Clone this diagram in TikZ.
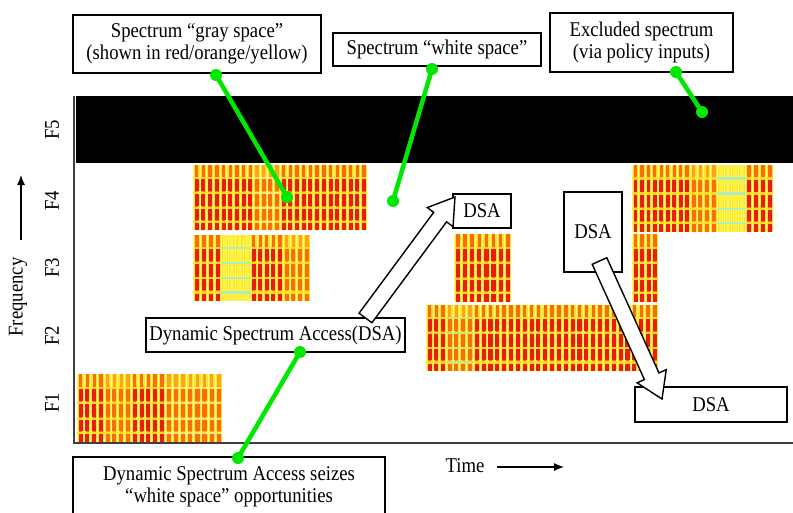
\documentclass[tikz,border=0pt]{standalone}
\usepackage{fontspec}
\setmainfont{Liberation Serif}[FakeStretch=0.89]
\usetikzlibrary{calc,arrows.meta}
\definecolor{hyel}{RGB}{255,228,45}
\definecolor{hred}{RGB}{236,28,10}
\definecolor{horg}{RGB}{250,110,10}
\definecolor{hlor}{RGB}{252,165,25}
\definecolor{hcy}{RGB}{165,238,200}
\definecolor{hcore}{RGB}{255,242,60}
\definecolor{gline}{RGB}{0,232,0}
\newcommand\heat[8]{%
  \pgfmathsetmacro\hh{#4-#3}%
  \pgfmathsetmacro\pp{(#2-#1)/#5}%
  \fill[hyel] (#1,#3) rectangle (#2,#4);
  \foreach \i in {1,...,#5}{%
    \pgfmathsetmacro\xa{#1+(\i-1)*\pp}%
    \fill[#6] (\xa+0.3*\pp,#3) rectangle (\xa+0.8*\pp,#4);
    \foreach \f/\g in {0.21/0.40,0.44/0.63,0.67/0.84,0.88/1}{%
      \fill[#7] (\xa+0.25*\pp,#3+\f*\hh) rectangle (\xa+0.85*\pp,#3+\g*\hh);}
    \draw[white!55!yellow,line width=0.8pt] (\xa+0.05*\pp,#3) -- (\xa+0.05*\pp,#4);
  }
  \foreach \f in {0.185,0.41,0.64,0.855}{%
    \fill[#8,opacity=0.9] (#1,#3+\f*\hh) rectangle (#2,#3+\f*\hh+2.2);}
}
\newcommand\hollow[3]{%
  \coordinate (#3) at ($(#2)!25pt!(#1)$);
  \draw[harrow] ($(#1)!8pt!90:(#2)$) -- ($(#3)!8pt!90:(#2)$) -- ($(#3)!16pt!90:(#2)$)
    -- (#2) -- ($(#3)!16pt!-90:(#2)$) -- ($(#3)!8pt!-90:(#2)$) -- ($(#1)!8pt!-90:(#2)$) -- cycle;
}
\tikzset{
  box/.style={draw=black, line width=1.3pt, fill=white, align=center, inner sep=0pt,
    font=\fontsize{21}{21.5}\selectfont},
  lbl/.style={inner sep=0pt, font=\fontsize{21}{21.5}\selectfont},
  harrow/.style={draw=black, line width=1.4pt, fill=white, line join=miter},
  gl/.style={line width=4.5pt, draw=gline, line cap=round},
  axarrow/.style={line width=1.1pt, -{Latex[length=10pt,width=8pt]}}
}
\begin{document}
\begin{tikzpicture}[x=1pt,y=-1pt]
\useasboundingbox (0,0) rectangle (793,512);
\clip (0,0) rectangle (793,512);
\fill[white] (0,0) rectangle (793,512);

% excluded band
\fill[black] (76,96) rectangle (793,163);

% gray-space blocks
% F4 left
\heat{193}{253.4}{165}{230}{9}{horg}{hred}{hyel}
\heat{253.4}{280}{165}{230}{4}{hlor}{horg}{hyel!60!white}
\heat{280}{367}{165}{230}{13}{horg}{hred}{hyel}
% F3 left
\heat{193}{221}{235}{301}{4}{horg}{hred}{hyel}
\heat{221}{250}{235}{301}{4}{hcore}{hcore}{hcy}
\heat{250}{283}{235}{301}{5}{horg}{hred}{hyel}
\heat{283}{310}{235}{301}{4}{hlor}{horg}{hyel}
% F1
\heat{77}{104}{374}{442}{4}{horg}{hred}{hyel}
\heat{104}{131}{374}{442}{4}{hlor}{horg}{hyel}
\heat{131}{165}{374}{442}{5}{horg}{hred}{hyel}
\heat{165}{222}{374}{442}{8}{hlor}{horg}{hyel!60!white}
% F2
\heat{426}{446}{305}{371}{3}{horg}{hred}{hyel}
\heat{446}{473}{305}{371}{4}{hlor}{horg}{hcy!50!hyel}
\heat{473}{658}{305}{371}{27}{horg}{hred}{hyel}
% F3 middle / right
\heat{454}{511}{234}{302}{8}{horg}{hred}{hyel}
\heat{632}{658}{234}{302}{4}{horg}{hred}{hyel}
% F4 right
\heat{632}{690}{165}{232}{9}{horg}{hred}{hyel}
\heat{690}{717}{165}{232}{4}{hlor}{horg}{hyel}
\heat{717}{745}{165}{232}{4}{hcore}{hcore}{hcy}
\heat{745}{773}{165}{232}{4}{horg}{hred}{hyel}

% frame
\draw[line width=1.3pt, black!75] (74,96) -- (74,443) -- (793,443);

% axis labels
\node[lbl, rotate=90] (f5) at (52,130) {F5};
\node[lbl, rotate=90] (f4) at (52,201) {F4};
\node[lbl, rotate=90] (f3) at (52,268) {F3};
\node[lbl, rotate=90] (f2) at (52,336) {F2};
\node[lbl, rotate=90] (f1) at (52,403) {F1};
\node[lbl, rotate=90] (freq) at (18,297) {Frequency};
\coordinate (fqa) at (21,240);
\coordinate (fqb) at (21,175);
\draw[axarrow] (fqa) -- (fqb);
\node[lbl] (time) at (465,466) {Time};
\coordinate (tma) at (497,467);
\coordinate (tmb) at (564,467);
\draw[axarrow] (tma) -- (tmb);

% label boxes
\node[box, minimum width=248pt, minimum height=58pt] (gray) at (197,44)
  {Spectrum “gray space”\\(shown in red/orange/yellow)};
\node[box, minimum width=208pt, minimum height=33pt] (white) at (437,49.5)
  {Spectrum “white space”};
\node[box, minimum width=183pt, minimum height=59pt] (excl) at (641.5,42.5)
  {Excluded spectrum\\(via policy inputs)};
\node[box, minimum width=259pt, minimum height=34pt] (dsal) at (275.5,335)
  {Dynamic Spectrum Access(DSA)};
\node[box, minimum width=312pt, minimum height=60pt] (seize) at (229,487)
  {Dynamic Spectrum Access seizes\\“white space” opportunities};

% DSA boxes
\node[box, minimum width=58pt, minimum height=34pt] (dsa1) at (482,211) {DSA};
\node[box, minimum width=58pt, minimum height=80pt] (dsa2) at (593,232) {DSA};
\node[box, minimum width=152pt, minimum height=35pt] (dsa3) at (711,404.5) {DSA};

% hollow arrows
\coordinate (a1s) at (365.5,318);
\coordinate (a1e) at (455,197);
\hollow{a1s}{a1e}{a1h}
\coordinate (a2s) at (599.5,261);
\coordinate (a2e) at (662,399);
\hollow{a2s}{a2e}{a2h}

% green pointers
\coordinate (g1a) at (216,75);  \coordinate (g1b) at (287,197);
\coordinate (g2a) at (432,69);  \coordinate (g2b) at (393,201);
\coordinate (g3a) at (676,72);  \coordinate (g3b) at (702,112);
\coordinate (g4a) at (300,352); \coordinate (g4b) at (238,458);
\foreach \p in {1,2,3,4}{
  \draw[gl] (g\p a) -- (g\p b);
  \fill[gline] (g\p a) circle (6pt) (g\p b) circle (6pt);
}
\end{tikzpicture}
\end{document}
